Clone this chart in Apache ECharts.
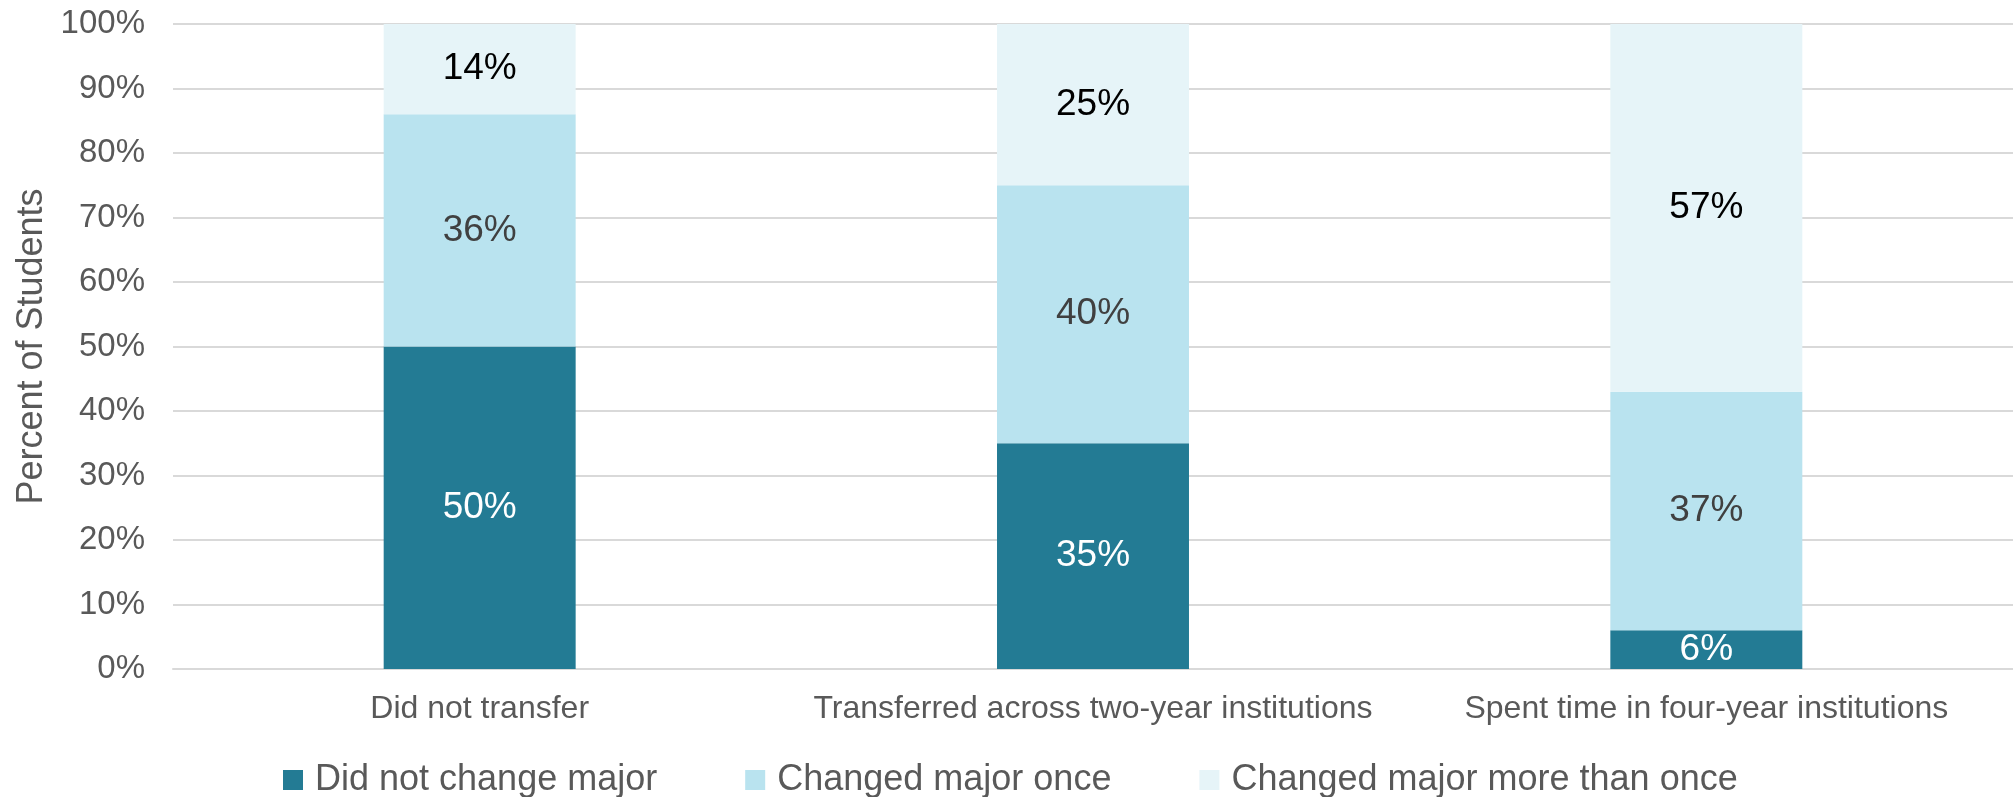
<!DOCTYPE html>
<html>
<head>
<meta charset="utf-8">
<script src="https://cdn.jsdelivr.net/npm/echarts@6/dist/echarts.min.js"></script>
<style>
  html, body { margin: 0; padding: 0; background: #fff; }
  #chart { width: 2013px; height: 797px; }
</style>
</head>
<body>
<div id="chart"></div>
<script>
const categories = ['Did not transfer', 'Transferred across two-year institutions', 'Spent time in four-year institutions']
const noChange = [50, 35, 6]
const changedOnce = [36, 40, 37]
const changedMore = [14, 25, 57]
const seriesNames = ['Did not change major', 'Changed major once', 'Changed major more than once']

const font = '"Liberation Sans", Arial, sans-serif'

const labelStyle = (color) => ({
  show: true,
  position: 'inside',
  color: color,
  fontSize: 37,
  fontFamily: font,
  formatter: (p) => p.value + '%'
})

const chart = echarts.init(document.getElementById('chart'))
chart.setOption({
  animation: false,
  grid: { left: 173, right: 0, top: 24, bottom: 128 },
  legend: {
    top: 757,
    left: 278,
    itemWidth: 20,
    itemHeight: 20,
    itemGap: 88,
    icon: 'rect',
    textStyle: { color: '#595959', fontSize: 36, fontFamily: font, padding: [0, 0, 0, 7] },
    data: seriesNames
  },
  xAxis: {
    type: 'category',
    data: categories,
    axisLine: { lineStyle: { color: '#D9D9D9', width: 2 } },
    axisTick: { show: false },
    axisLabel: { color: '#595959', fontSize: 32, fontFamily: font, margin: 24, interval: 0 }
  },
  yAxis: {
    type: 'value',
    min: 0,
    max: 100,
    interval: 10,
    name: 'Percent of Students',
    nameLocation: 'middle',
    nameGap: 119,
    nameTextStyle: { color: '#595959', fontSize: 36, fontFamily: font },
    axisLabel: { color: '#595959', fontSize: 33, fontFamily: font, margin: 28, formatter: '{value}%' },
    axisLine: { show: false },
    axisTick: { show: false },
    splitLine: { lineStyle: { color: '#D9D9D9', width: 2 } }
  },
  series: [
    {
      name: seriesNames[0], type: 'bar', stack: 'total', data: noChange, barWidth: '31.3%',
      itemStyle: { color: '#237B94' }, label: labelStyle('#ffffff')
    },
    {
      name: seriesNames[1], type: 'bar', stack: 'total', data: changedOnce, barWidth: '31.3%',
      itemStyle: { color: '#B9E3EF' }, label: labelStyle('#404040')
    },
    {
      name: seriesNames[2], type: 'bar', stack: 'total', data: changedMore, barWidth: '31.3%',
      itemStyle: { color: '#E6F4F8' }, label: labelStyle('#000000')
    }
  ]
})
</script>
</body>
</html>
